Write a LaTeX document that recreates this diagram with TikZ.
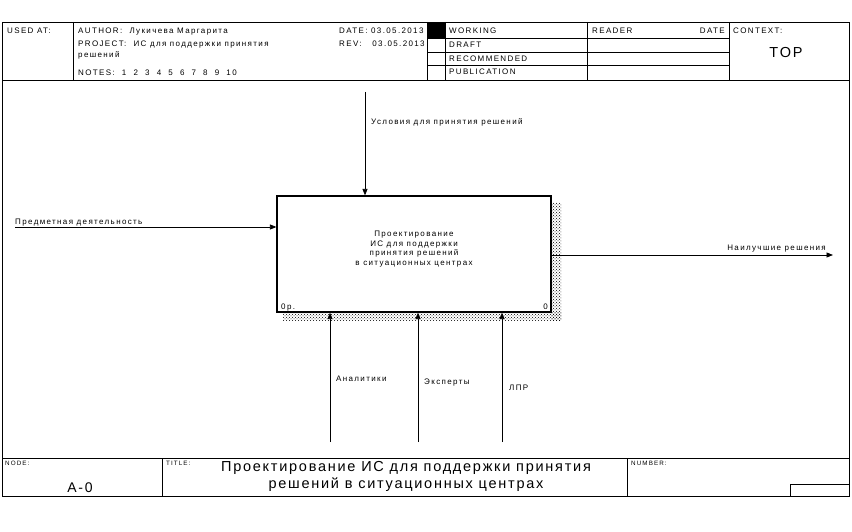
\documentclass[tikz,border=0pt]{standalone}
\usepackage{fontspec}
\setmainfont{Liberation Sans}
\newfontfamily\wf[LetterSpace=17]{Liberation Sans}
\newfontfamily\tf[LetterSpace=12]{Liberation Sans}
\usetikzlibrary{arrows.meta,patterns}
\begin{document}
\begin{tikzpicture}[x=1pt,y=-1pt,
  frm/.style={line width=0.8pt},
  thin/.style={line width=0.6pt},
  lbl/.style={inner sep=0pt,anchor=base west,font=\wf\fontsize{8}{9.5}\selectfont},
  tiny/.style={inner sep=0pt,anchor=base west,font=\wf\fontsize{6.3}{7}\selectfont},
  arr/.style={line width=0.8pt,-{Triangle[length=6.5pt,width=5pt]}},
  fbox/.style={draw,line width=1.2pt,minimum width=274pt,minimum height=116pt,inner sep=0pt},
  shadow/.style={pattern=crosshatch dots,pattern color=black}]
\useasboundingbox (0,0) rectangle (852,532);
% outer frame
\draw[frm] (2,22) rectangle (849,496);
\draw[frm] (2,80) -- (849,80);
\draw[frm] (2,458) -- (849,458);
% header columns
\draw[thin] (73,22) -- (73,80);
\draw[thin] (427,22) -- (427,80);
\draw[thin] (445,22) -- (445,80);
\draw[thin] (587,22) -- (587,80);
\draw[thin] (729,22) -- (729,80);
\foreach \yy in {38.5,52,65.5} \draw[thin] (427,\yy) -- (729,\yy);
\fill (427,22) rectangle (445,38.5);
% header texts
\node[lbl] (usedat) at (7,34) {USED AT:};
\node[lbl] (author) at (78,34) {AUTHOR:\ \ Лукичева Маргарита};
\node[lbl] (project) at (78,47) {PROJECT:\ \ ИС для поддержки принятия};
\node[lbl] (project2) at (78,58) {решений};
\node[lbl] (notes) at (78,76) {NOTES:\ \ 1\ \ 2\ \ 3\ \ 4\ \ 5\ \ 6\ \ 7\ \ 8\ \ 9\ \ 10};
\node[lbl] (date) at (339,34) {DATE: 03.05.2013};
\node[lbl] (rev) at (339,47) {REV:\ \ \ 03.05.2013};
\node[lbl] (working) at (449,34) {WORKING};
\node[lbl] (draft) at (449,48) {DRAFT};
\node[lbl] (recom) at (449,61.5) {RECOMMENDED};
\node[lbl] (publ) at (449,75) {PUBLICATION};
\node[lbl] (reader) at (592,34) {READER};
\node[lbl,anchor=base east] (rdate) at (725,34) {DATE};
\node[lbl] (context) at (733,34) {CONTEXT:};
\node[inner sep=0pt,anchor=base,font=\tf\fontsize{14.5}{16}\selectfont] (top) at (786,58) {TOP};
% shadow
\fill[shadow] (551,203) rectangle (561,320);
\fill[shadow] (283,312) rectangle (561,320);
% main box
\node[fbox,fill=white] (box) at (414,254) {};
\node[font=\wf\fontsize{8}{9.4}\selectfont,align=center,inner sep=0pt] (boxtxt) at (414,249)
  {Проектирование\\ИС для поддержки\\принятия решений\\в ситуационных центрах};
\node[lbl] (boxnum) at (281,309) {0р.};
\node[lbl,anchor=base east] (boxcost) at (548,309) {0};
% control
\coordinate (ctop) at (365,92);
\draw[arr] (ctop) -- (ctop |- box.north);
\node[lbl] (clab) at (371,125) {Условия для принятия решений};
% input
\coordinate (inl) at (15,227);
\draw[arr] (inl) -- (inl -| box.west);
\node[lbl] (inlab) at (15,224) {Предметная деятельность};
% output
\coordinate (outr) at (833,255);
\draw[arr] (outr -| box.east) -- (outr);
\node[lbl,anchor=base east] (outlab) at (826,251) {Наилучшие решения};
% mechanisms
\coordinate (m1) at (330,442);
\coordinate (m2) at (418,442);
\coordinate (m3) at (502,442);
\draw[arr] (m1) -- (m1 |- box.south);
\draw[arr] (m2) -- (m2 |- box.south);
\draw[arr] (m3) -- (m3 |- box.south);
\node[lbl] (m1lab) at (336,381) {Аналитики};
\node[lbl] (m2lab) at (424,384) {Эксперты};
\node[lbl] (m3lab) at (509,390) {ЛПР};
% footer
\draw[thin] (162,458) -- (162,496);
\draw[thin] (627,458) -- (627,496);
\draw[thin] (790,496) -- (790,484) -- (849,484);
\node[tiny] (nodel) at (5,465) {NODE:};
\node[tiny] (titlel) at (166,465) {TITLE:};
\node[tiny] (numl) at (631,465) {NUMBER:};
\node[inner sep=0pt,anchor=base,font=\tf\fontsize{14}{15}\selectfont] (a0) at (80,492) {A-0};
\node[inner sep=0pt,align=center,font=\tf\fontsize{14.5}{17}\selectfont] (title) at (406,476)
  {Проектирование ИС для поддержки принятия\\решений в ситуационных центрах};
\end{tikzpicture}
\end{document}
